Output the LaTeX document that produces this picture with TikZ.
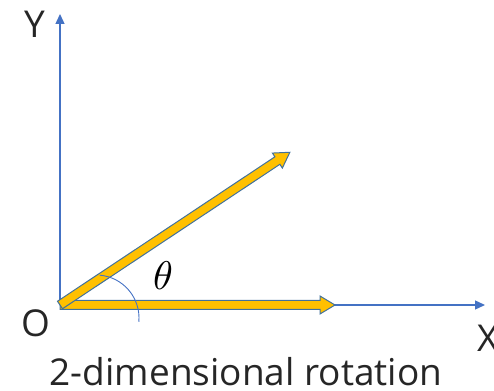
\documentclass[tikz,border=0pt]{standalone}
\usepackage{fontspec}
\setmainfont{Open Sans}
\usetikzlibrary{arrows.meta}
\definecolor{axisblue}{HTML}{4472C4}
\definecolor{arrfill}{HTML}{FFC000}
\definecolor{arredge}{HTML}{41719C}
\tikzset{
  axis/.style={draw=axisblue, line width=1.3pt, -{Triangle[length=10pt,width=9pt]}},
  blockarrow/.style={fill=arrfill, draw=arredge, line width=1pt, line join=miter},
  lbl/.style={font=\fontsize{37}{40}\selectfont, text=black!85, inner sep=0pt, anchor=base},
  anglearc/.style={draw=axisblue, line width=0.9pt}
}
\begin{document}
\begin{tikzpicture}[x=1pt,y=1pt]
\useasboundingbox (0,0) rectangle (494,390);
\coordinate (O) at (60,85);
\coordinate (Ytip) at (60,376);
\coordinate (Xtip) at (485,85);
\coordinate (C) at (96,72);
\draw[axis] (O) -- (Ytip);
\draw[axis] (O) -- (Xtip);
% horizontal block arrow
\begin{scope}[shift={(O)}]
\draw[blockarrow] (0,-4.5) -- (260,-4.5) -- (260,-9) -- (275,0) -- (260,9) -- (260,4.5) -- (0,4.5) -- cycle;
\end{scope}
% diagonal block arrow
\begin{scope}[shift={(O)}, rotate=33.6]
\draw[blockarrow] (0,-4.5) -- (261,-4.5) -- (261,-9) -- (276,0) -- (261,9) -- (261,4.5) -- (0,4.5) -- cycle;
\end{scope}
\draw[anglearc] ([shift={(-5:43)}]C) arc[start angle=-5, end angle=85, radius=43];
\node[scale=4, inner sep=0pt] (theta) at (163,114) {$\theta$};
\node[lbl] (Y) at (35,352) {Y};
\node[lbl] (Olbl) at (36,53) {O};
\node[lbl, anchor=base west] (X) at (477,38) {X};
\node[lbl] (title) at (246,5) {2-dimensional rotation};
\end{tikzpicture}
\end{document}
